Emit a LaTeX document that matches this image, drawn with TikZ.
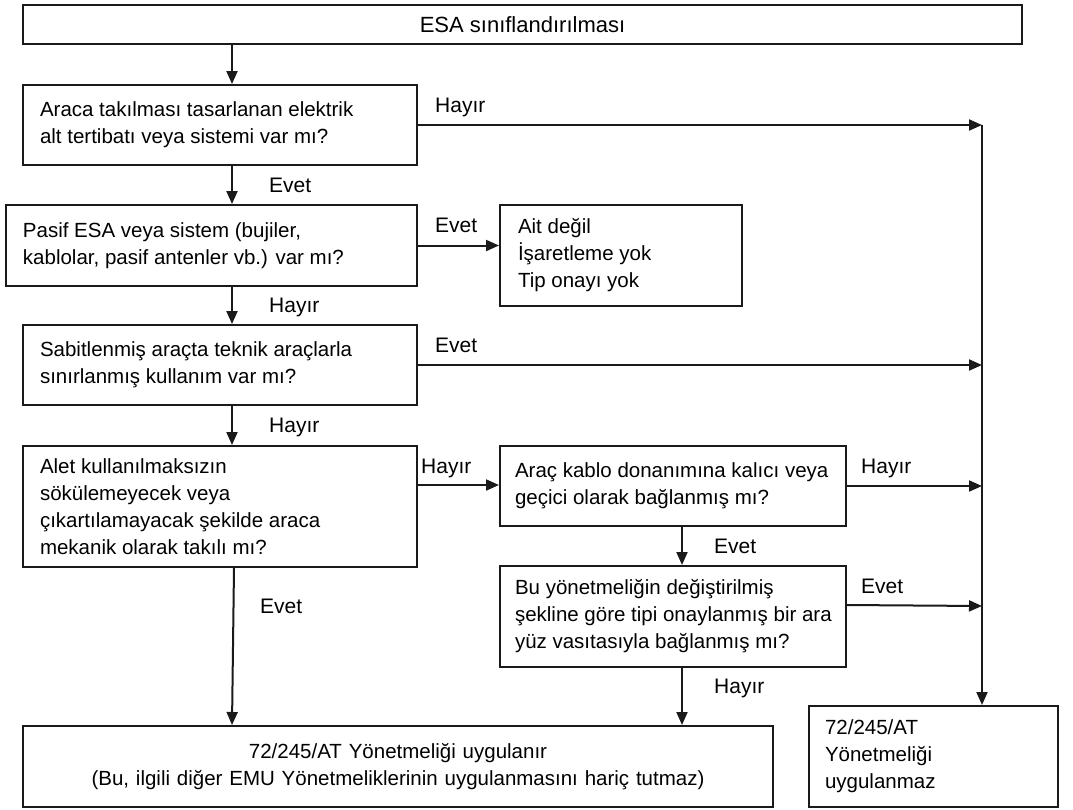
\documentclass[tikz,border=0pt]{standalone}
\usepackage{fontspec}
\setmainfont{Liberation Sans}
\usetikzlibrary{arrows.meta,calc}
\definecolor{lc}{HTML}{1A1A1A}
\newcommand\bodyfont{\fontsize{20.5}{27}\selectfont}
\newcommand\labfont{\fontsize{21}{27}\selectfont}
\begin{document}
\begin{tikzpicture}[x=1pt,y=-1pt,
  box/.style={draw=lc, line width=2pt, rectangle, inner ysep=0pt, align=flush left, font=\bodyfont, text=black},
  arr/.style={-{Triangle[length=13pt,width=11pt]}, line width=2pt, draw=lc},
  lab/.style={anchor=base west, inner sep=0pt, font=\labfont, text=black}]
\useasboundingbox (0,0) rectangle (1073,809);
\fill[white] (0,0) rectangle (1073,809);

% boxes
\node[box, inner xsep=0pt, minimum width=999pt, minimum height=39pt, align=center, font=\fontsize{22}{27}\selectfont] (top) at (522.5,24.5) {ESA sınıflandırılması};
\node[box, inner xsep=17pt, text width=360pt, minimum height=80pt] (b1) at (220,125)
  {\mbox{Araca takılması tasarlanan elektrik}\\\mbox{alt tertibatı veya sistemi var mı?}};
\node[box, inner xsep=17pt, text width=377pt, minimum height=81pt] (b2) at (211.5,245.5)
  {\mbox{Pasif ESA veya sistem (bujiler,}\\\mbox{kablolar, pasif antenler vb.) var mı?}};
\node[box, inner xsep=18pt, text width=206pt, minimum height=101pt] (ait) at (621,255.5)
  {Ait değil\\İşaretleme yok\\Tip onayı yok};
\node[box, inner xsep=17pt, text width=360pt, minimum height=80pt] (b3) at (220,365)
  {\mbox{Sabitlenmiş araçta teknik araçlarla}\\\mbox{sınırlanmış kullanım var mı?}};
\node[box, inner xsep=17pt, text width=360pt, minimum height=121pt] (b4) at (220,506.5)
  {\mbox{Alet kullanılmaksızın}\\\mbox{sökülemeyecek veya}\\\mbox{çıkartılamayacak şekilde araca}\\\mbox{mekanik olarak takılı mı?}};
\node[box, inner xsep=15pt, text width=316pt, minimum height=80pt] (b5) at (673,486)
  {\mbox{Araç kablo donanımına kalıcı veya}\\\mbox{geçici olarak bağlanmış mı?}};
\node[box, inner xsep=15pt, text width=316pt, minimum height=101pt] (b6) at (673,616.5)
  {\mbox{Bu yönetmeliğin değiştirilmiş}\\\mbox{şekline göre tipi onaylanmış bir ara}\\\mbox{yüz vasıtasıyla bağlanmış mı?}};
\node[box, inner xsep=10pt, text width=730pt, minimum height=81pt, align=center] (b7) at (398,766.5)
  {72/245/AT Yönetmeliği uygulanır\\(Bu, ilgili diğer EMU Yönetmeliklerinin uygulanmasını hariç tutmaz)};
\node[box, inner xsep=16pt, text width=217pt, minimum height=101pt] (b8) at (933.5,756.5)
  {72/245/AT\\Yönetmeliği\\uygulanmaz};

% helper coordinates
\coordinate (a1) at ([xshift=12pt]b1.north);
\coordinate (a4) at ([xshift=14pt]b4.south);
\coordinate (a5) at ([xshift=9pt]b5.south);
\coordinate (c4) at ([yshift=-40pt]b4.north east);
\coordinate (c6) at ([yshift=-40pt]b6.north east);
\coordinate (j1) at (982,125);
\coordinate (j2) at (982,365);
\coordinate (j3) at (982,486);
\coordinate (j4) at (982,606);

% connectors
\draw[arr] (a1 |- top.south) -- (a1);
\draw[arr] (a1 |- b1.south) -- (a1 |- b2.north);
\draw[arr] (a1 |- b2.south) -- (a1 |- b3.north);
\draw[arr] (a1 |- b3.south) -- (a1 |- b4.north);
\draw[arr] (a4) -- (a1 |- b7.north);
\draw[arr] (b2.east) -- (b2.east -| ait.west);
\draw[arr] (b1.east) -- (j1);
\draw[arr] (b3.east) -- (j2);
\draw[arr] (c4) -- (c4 -| b5.west);
\draw[arr] (b5.east) -- (j3);
\draw[arr] (c6) -- (j4);
\draw[arr] (j1) -- (j1 |- b8.north);
\draw[arr] (a5) -- (a5 |- b6.north);
\draw[arr] (a5 |- b6.south) -- (a5 |- b7.north);

% labels
\node[lab] (l1) at (435,112) {Hayır};
\node[lab] (l2) at (269,192) {Evet};
\node[lab] (l3) at (435,232) {Evet};
\node[lab] (l4) at (269,312) {Hayır};
\node[lab] (l5) at (435,352) {Evet};
\node[lab] (l6) at (269,432) {Hayır};
\node[lab] (l7) at (421,473) {Hayır};
\node[lab] (l8) at (260,613) {Evet};
\node[lab] (l9) at (861,473) {Hayır};
\node[lab] (l10) at (714,553) {Evet};
\node[lab] (l11) at (861,593) {Evet};
\node[lab] (l12) at (714,693) {Hayır};
\end{tikzpicture}
\end{document}
